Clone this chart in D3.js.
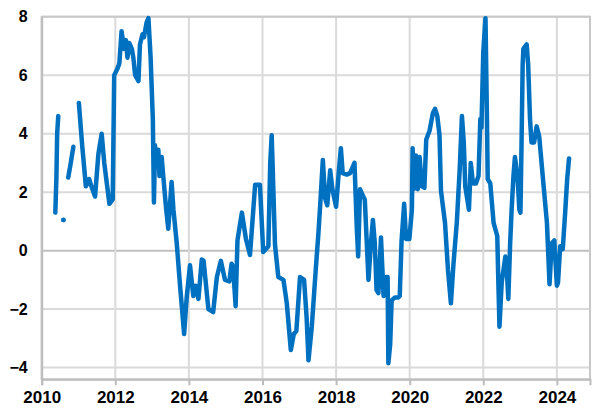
<!DOCTYPE html>
<html>
<head>
<meta charset="utf-8">
<script src="https://cdn.jsdelivr.net/npm/d3@7"></script>
<style>
  html, body { margin: 0; padding: 0; background: #fff; }
  svg { display: block; }
  text { font-family: "Liberation Sans", Arial, sans-serif; font-weight: bold; fill: #000; }
</style>
</head>
<body>
<svg id="chart" width="595" height="412"></svg>
<script>
// Decimal-year dates; null values break the line (gaps in the series)
const dates = [
  2010.37, 2010.40, 2010.42, 2010.45, 2010.52,
  2010.59, 2010.65,
  2010.72, 2010.79, 2010.86, 2010.93,
  2011.01, 2011.10, 2011.20, 2011.29, 2011.35, 2011.45, 2011.54, 2011.63, 2011.70, 2011.84, 2011.93, 2011.97,
  2012.05, 2012.11, 2012.17, 2012.24, 2012.29, 2012.33, 2012.38, 2012.45, 2012.49, 2012.54, 2012.63, 2012.67,
  2012.74, 2012.78, 2012.85, 2012.90, 2012.96,
  2013.02, 2013.05, 2013.08, 2013.11, 2013.17, 2013.20, 2013.26, 2013.30, 2013.38, 2013.44, 2013.53, 2013.58,
  2013.67, 2013.76, 2013.87, 2013.94,
  2014.03, 2014.12, 2014.18, 2014.26, 2014.35, 2014.40, 2014.53, 2014.66, 2014.76, 2014.87, 2014.98,
  2015.10, 2015.16, 2015.20, 2015.27, 2015.32, 2015.44, 2015.55, 2015.66, 2015.80, 2015.93,
  2016.02, 2016.16, 2016.21, 2016.25, 2016.29, 2016.34, 2016.43, 2016.57, 2016.66, 2016.77, 2016.85, 2016.92,
  2017.02, 2017.13, 2017.20, 2017.25, 2017.34, 2017.45, 2017.52, 2017.57, 2017.64, 2017.70, 2017.76, 2017.84, 2017.90,
  2018.00, 2018.07, 2018.13, 2018.18, 2018.29, 2018.38, 2018.50, 2018.56, 2018.60, 2018.65, 2018.72, 2018.78, 2018.88, 2018.95,
  2019.00, 2019.05, 2019.10, 2019.15, 2019.22, 2019.29, 2019.36, 2019.40, 2019.42, 2019.47, 2019.51, 2019.60, 2019.69, 2019.73,
  2019.78, 2019.85, 2019.90, 2019.99,
  2020.06, 2020.08, 2020.11, 2020.17, 2020.22, 2020.27, 2020.33, 2020.40, 2020.45, 2020.54, 2020.63, 2020.69, 2020.75,
  2020.81, 2020.85, 2020.96,
  2021.04, 2021.12, 2021.19, 2021.28, 2021.36, 2021.42, 2021.47, 2021.51, 2021.61, 2021.66, 2021.72, 2021.80, 2021.87,
  2021.92, 2021.95,
  2022.00, 2022.06, 2022.10, 2022.12, 2022.19, 2022.28, 2022.38, 2022.41, 2022.44, 2022.50, 2022.60, 2022.63, 2022.68,
  2022.73, 2022.77, 2022.82, 2022.86, 2022.93, 2022.98,
  2023.01, 2023.04, 2023.07, 2023.09, 2023.18, 2023.22, 2023.27, 2023.31, 2023.38, 2023.45, 2023.52, 2023.64, 2023.73,
  2023.80, 2023.86, 2023.93,
  2024.00, 2024.03, 2024.09, 2024.16, 2024.23, 2024.28, 2024.33
];
const values = [
  1.3, 2.5, 4.0, 4.6, null,
  1.05, null,
  2.5, 3.0, 3.55, null,
  5.05, 3.6, 2.2, 2.45, 2.2, 1.85, 3.3, 4.0, 3.0, 1.6, 1.75, 6.0,
  6.2, 6.4, 7.5, 6.9, 7.2, 6.6, 7.1, 6.9, 6.6, 6.0, 5.8, 7.05,
  7.4, 7.3, 7.8, 7.95, 6.6,
  4.5, 1.65, 3.6, 3.0, 3.45, 2.55, 3.2, 2.6, 1.45, 0.75, 2.35, 1.4,
  0.25, -1.2, -2.85, -1.6,
  -0.5, -1.55, -1.2, -1.65, -0.3, -0.35, -2.0, -2.1, -0.9, -0.35, -1.0,
  -1.05, -0.45, -0.55, -1.9, 0.35, 1.3, 0.4, -0.15, 2.25, 2.25,
  -0.05, 0.15, 3.0, 3.95, 2.3, 0.2, -0.9, -1.0, -1.8, -3.4, -2.85, -2.75,
  -0.9, -1.0, -2.3, -3.75, -2.6, -0.6, 0.6, 1.6, 3.1, 1.8, 1.55, 2.75, 2.1,
  1.5, 2.65, 3.5, 2.65, 2.6, 2.65, 3.0, 0.85, -0.2, 2.1, 1.9, 1.75, -1.0, 0.3,
  1.05, 0.3, -1.35, -1.45, 0.45, -1.55, -0.9, -0.9, -3.85, -3.2, -1.7, -1.6, -1.6, -1.55,
  0.35, 1.6, 0.4, 0.4,
  1.4, 3.5, 2.1, 3.25, 2.1, 3.2, 2.2, 2.15, 3.8, 4.1, 4.7, 4.85, 4.6,
  3.95, 2.05, 0.95,
  -0.65, -1.8, -0.45, 0.95, 2.8, 4.6, 3.7, 2.2, 1.4, 3.0, 2.3, 2.3, 2.55,
  4.5, 4.2,
  6.8, 7.95, 4.5, 2.45, 2.3, 0.95, 0.5, -1.1, -2.6, -1.1, -0.2, -0.4, -1.65,
  0.25, 1.4, 2.55, 3.2, 2.55, 1.4,
  1.3, 3.7, 6.35, 6.9, 7.05, 6.35, 4.5, 3.7, 3.7, 4.25, 3.9, 2.2, 0.95,
  -1.15, 0.25, 0.35,
  -1.2, -1.1, 0.15, 0.05, 1.4, 2.45, 3.15
];
const xTicks = [2010, 2012, 2014, 2016, 2018, 2020, 2022, 2024];
const yTicks = [-4, -2, 0, 2, 4, 6, 8];

const data = dates.map((d, i) => ({ d, v: values[i] }));

const svg = d3.select("#chart");
const L = 41.7, R = 590, T = 16.7, B = 379.3;

const x = d3.scaleLinear().domain([2010, 2024.9]).range([L, R]);
const y = d3.scaleLinear().domain([-4.4, 8]).range([B, T]);

// grid
const grid = svg.append("g");
grid.selectAll("line.h").data(yTicks).enter().append("line")
  .attr("x1", L).attr("x2", R)
  .attr("y1", d => y(d)).attr("y2", d => y(d))
  .attr("stroke", d => d === 0 ? "#c0c0c0" : "#dadada")
  .attr("stroke-width", 2);
grid.selectAll("line.v").data(xTicks).enter().append("line")
  .attr("y1", T).attr("y2", B)
  .attr("x1", d => x(d)).attr("x2", d => x(d))
  .attr("stroke", "#dadada").attr("stroke-width", 2);

// frame
svg.append("rect")
  .attr("x", L).attr("y", T).attr("width", R - L).attr("height", B - T)
  .attr("fill", "none").attr("stroke", "#c8c8c8").attr("stroke-width", 2);

// x axis
const xAxis = d3.axisBottom(x).tickValues(xTicks).tickFormat(d3.format("d")).tickSize(6).tickPadding(6);
const gx = svg.append("g").attr("transform", `translate(0,${B})`).call(xAxis);
gx.select(".domain").attr("stroke", "#bdbdbd").attr("stroke-width", 2);
gx.selectAll(".tick line").attr("stroke", "#bdbdbd").attr("stroke-width", 2);
gx.selectAll(".tick text").style("font-size", "17px").style("font-family", "'Liberation Sans', Arial, sans-serif").style("font-weight", "bold").attr("fill", "#000");

// y axis
const yAxis = d3.axisLeft(y).tickValues(yTicks).tickFormat(d3.format("d")).tickSize(0).tickPadding(14);
const gy = svg.append("g").attr("transform", `translate(${L},0)`).call(yAxis);
gy.select(".domain").attr("stroke", "#bdbdbd").attr("stroke-width", 2);
gy.selectAll(".tick text").style("font-size", "16px").style("font-family", "'Liberation Sans', Arial, sans-serif").style("font-weight", "bold").attr("fill", "#000");

// line
const line = d3.line().defined(p => p.v !== null).x(p => x(p.d)).y(p => y(p.v));
svg.append("path").datum(data)
  .attr("d", line)
  .attr("fill", "none").attr("stroke", "#0070C0").attr("stroke-width", 4.5)
  .attr("stroke-linejoin", "round").attr("stroke-linecap", "round");

// isolated points (single defined values between gaps)
const isolated = data.filter((p, i) => p.v !== null &&
  (i === 0 || data[i - 1].v === null) && (i === data.length - 1 || data[i + 1].v === null));
svg.selectAll("circle.iso").data(isolated).enter().append("circle")
  .attr("cx", p => x(p.d)).attr("cy", p => y(p.v)).attr("r", 2.4).attr("fill", "#0070C0");
</script>
</body>
</html>
